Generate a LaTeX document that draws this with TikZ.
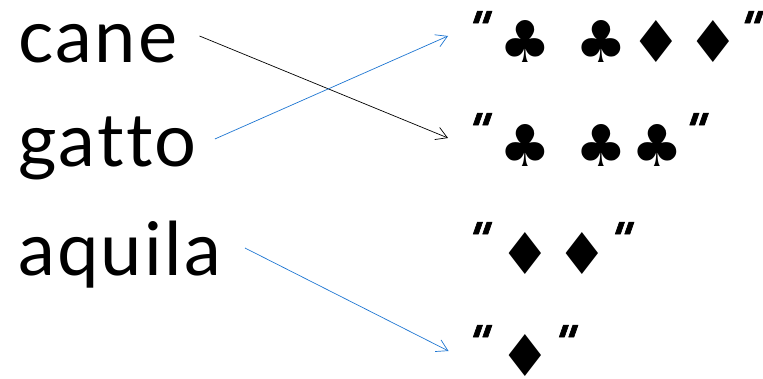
\documentclass[tikz,border=0pt]{standalone}
\usepackage{fontspec}
\setmainfont{Lato}[Ligatures={NoCommon}, LetterSpace=3]
\newfontfamily\suitfont{DejaVu Sans}
\newfontfamily\quotefont{DejaVu Sans Bold}[FakeSlant=0.35, FakeBold=1.5]
\usetikzlibrary{arrows.meta}
\definecolor{linkblue}{RGB}{30,118,210}
\newcommand\clubglyph{\resizebox*{!}{42pt}{\suitfont ♣}}
\newcommand\diamglyph{\resizebox*{!}{42pt}{\suitfont ♦}}
\newcommand\quoteglyph{\resizebox*{!}{32pt}{\quotefont "}}
\begin{document}
\begin{tikzpicture}[x=1pt,y=-1pt,
  word/.style={font=\fontsize{74}{80}\selectfont, inner sep=0pt, anchor=base west},
  sym/.style={inner sep=0pt, anchor=center},
  qmark/.style={inner sep=0pt, anchor=north},
  link/.style={-{Straight Barb[length=11pt,width=13pt,line width=0.7pt]}, line width=0.7pt},
  blacklink/.style={link, draw=black},
  bluelink/.style={link, draw=linkblue}]
\useasboundingbox (0,0) rectangle (763,379);
% words
\node[word] (cane)   at (18,63)  {cane};
\node[word] (gatto)  at (18,167) {gatto};
\node[word] (aquila) at (18,276) {aquila};
% row 1
\node[qmark] (r1o) at (473.5,11) {\quoteglyph};
\node[sym] (r1a) at (525,42)   {\clubglyph};
\node[sym] (r1b) at (601,42)   {\clubglyph};
\node[sym] (r1c) at (656.5,42) {\diamglyph};
\node[sym] (r1d) at (713,42)   {\diamglyph};
\node[qmark] (r1e) at (745,11) {\quoteglyph};
% row 2
\node[qmark] (r2o) at (473.5,113) {\quoteglyph};
\node[sym] (r2a) at (525,146)     {\clubglyph};
\node[sym] (r2b) at (601,146)     {\clubglyph};
\node[sym] (r2c) at (657,146)     {\clubglyph};
\node[qmark] (r2e) at (690,113)   {\quoteglyph};
% row 3
\node[qmark] (r3o) at (473.5,222) {\quoteglyph};
\node[sym] (r3a) at (525.5,254)   {\diamglyph};
\node[sym] (r3b) at (582,254)     {\diamglyph};
\node[qmark] (r3e) at (615.5,222) {\quoteglyph};
% row 4
\node[qmark] (r4o) at (473.5,325) {\quoteglyph};
\node[sym] (r4a) at (525.5,355) {\diamglyph};
\node[qmark] (r4e) at (559.5,325) {\quoteglyph};
% connectors
\draw[blacklink] ([shift={(22pt,27pt)}]cane.base east)   -- ([shift={(-77pt,8pt)}]r2a.center);
\draw[bluelink]  ([shift={(18pt,28pt)}]gatto.base east)  -- ([shift={(-77pt,6pt)}]r1a.center);
\draw[bluelink]  ([shift={(24pt,28pt)}]aquila.base east) -- ([shift={(-77pt,4pt)}]r4a.center);
\end{tikzpicture}
\end{document}
